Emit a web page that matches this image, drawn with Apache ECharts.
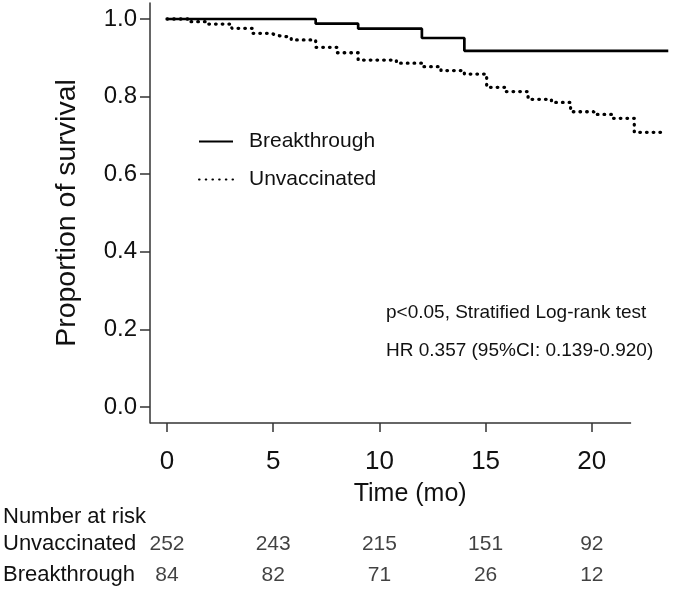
<!DOCTYPE html>
<html>
<head>
<meta charset="utf-8">
<script src="https://cdn.jsdelivr.net/npm/echarts@6/dist/echarts.min.js"></script>
<style>html,body{margin:0;padding:0;background:#fff}#c{width:673px;height:592px}</style>
</head>
<body>
<div id="c"></div>
<script>
// ---- data ----
const breakTimes = [0, 7.0, 9.0, 12.0, 14.0, 23.6];
const breakSurv  = [1.0, 0.988, 0.975, 0.951, 0.918, 0.918];
const unvTimes = [0, 1.05, 1.9, 3.05, 4.05, 4.95, 5.1, 5.85, 7.0, 8.0, 9.0, 10.8, 12.05, 12.9, 14.0, 15.05, 15.9, 17.0, 18.1, 19.0, 20.1, 21.0, 22.0, 23.5];
const unvSurv  = [1.0, 0.993, 0.987, 0.976, 0.963, 0.958, 0.953, 0.946, 0.927, 0.913, 0.894, 0.886, 0.877, 0.867, 0.858, 0.824, 0.813, 0.793, 0.785, 0.761, 0.754, 0.744, 0.708, 0.708];
const xTicks = [0, 5, 10, 15, 20];
const yTicks = [0, 0.2, 0.4, 0.6, 0.8, 1.0];
const riskTimes = [0, 5, 10, 15, 20];
const riskUnvaccinated = [252, 243, 215, 151, 92];
const riskBreakthrough = [84, 82, 71, 26, 12];
const groups = ['Breakthrough', 'Unvaccinated'];

// axis extents (x axis line drawn from X_MIN to X_LINE_END)
const X_MIN = -0.8, X_MAX = 23.7, X_LINE_END = 21.85;
const Y_MIN = -0.0412, Y_MAX = 1.0412;

const FONT = 'Liberation Sans, Arial, sans-serif';
const INK = '#111';
const AX = '#333';
const zip = (a, b) => a.map((v, i) => [v, b[i]]);

const chart = echarts.init(document.getElementById('c'), null, {renderer: 'canvas'});
chart.setOption({
  animation: false,
  textStyle: {fontFamily: FONT, color: INK},
  title: [
    {text: 'p<0.05, Stratified Log-rank test\nHR 0.357 (95%CI: 0.139-0.920)', left: 386, top: 294, padding: 0,
     textStyle: {fontFamily: FONT, fontSize: 19, fontWeight: 'normal', color: INK, lineHeight: 38}},
    {text: 'Number at risk', left: 3, top: 506, padding: 0,
     textStyle: {fontFamily: FONT, fontSize: 22, fontWeight: 'normal', color: INK}}
  ],
  legend: {
    orient: 'vertical', left: 198, top: 131, padding: 0, itemWidth: 34, itemHeight: 14, itemGap: 17,
    data: groups,
    itemStyle: {opacity: 0},
    textStyle: {fontFamily: FONT, fontSize: 21, color: INK, padding: [0, 0, 0, 11]}
  },
  grid: [
    {left: 150, right: 2.6, top: 3, bottom: 169},
    {left: 150, right: 2.6, top: 528.5, height: 62}
  ],
  xAxis: [
    {gridIndex: 0, type: 'value', min: X_MIN, max: X_MAX,
     name: 'Time (mo)', nameLocation: 'middle', nameGap: 59,
     nameTextStyle: {fontFamily: FONT, fontSize: 25, color: INK},
     axisLine: {show: false, onZero: false},
     axisTick: {show: true, length: 9, customValues: xTicks, lineStyle: {color: AX, width: 1.5}},
     axisLabel: {customValues: xTicks, fontSize: 26, margin: 26, color: INK, fontFamily: FONT},
     splitLine: {show: false}},
    {gridIndex: 1, type: 'value', min: X_MIN, max: X_MAX, show: false}
  ],
  yAxis: [
    {gridIndex: 0, type: 'value', min: Y_MIN, max: Y_MAX,
     name: 'Proportion of survival', nameLocation: 'middle', nameGap: 68, nameRotate: 90,
     nameTextStyle: {fontFamily: FONT, fontSize: 28.5, color: INK},
     axisLine: {show: true, onZero: false, lineStyle: {color: AX, width: 1.5}},
     axisTick: {show: true, length: 10, customValues: yTicks, lineStyle: {color: AX, width: 1.5}},
     axisLabel: {customValues: yTicks, fontSize: 24, margin: 13, color: INK, fontFamily: FONT,
       formatter: v => v.toFixed(1)},
     splitLine: {show: false}},
    {gridIndex: 1, type: 'category', data: groups,
     axisLine: {show: false}, axisTick: {show: false},
     axisLabel: {align: 'left', margin: 147, fontSize: 22, color: INK, fontFamily: FONT}}
  ],
  series: [
    {name: 'Breakthrough', type: 'line', xAxisIndex: 0, yAxisIndex: 0, step: 'end', symbol: 'none',
     data: zip(breakTimes, breakSurv),
     lineStyle: {color: '#000', width: 2.7, type: 'solid'}, itemStyle: {color: '#000'},
     markLine: {silent: true, symbol: 'none', label: {show: false},
       lineStyle: {color: AX, width: 1.5, type: 'solid'},
       data: [[{coord: [X_MIN, Y_MIN]}, {coord: [X_LINE_END, Y_MIN]}]]}},
    {name: 'Unvaccinated', type: 'line', xAxisIndex: 0, yAxisIndex: 0, step: 'end', symbol: 'none',
     data: zip(unvTimes, unvSurv),
     lineStyle: {color: '#000', width: 3.3, type: [0.6, 6.1], cap: 'round'}, itemStyle: {color: '#000'}},
    {type: 'scatter', xAxisIndex: 1, yAxisIndex: 1, symbolSize: 0, silent: true,
     data: riskTimes.map((t, i) => [t, 'Unvaccinated', riskUnvaccinated[i]]),
     label: {show: true, position: 'inside', formatter: p => p.value[2], fontSize: 21, color: INK, fontFamily: FONT}},
    {type: 'scatter', xAxisIndex: 1, yAxisIndex: 1, symbolSize: 0, silent: true,
     data: riskTimes.map((t, i) => [t, 'Breakthrough', riskBreakthrough[i]]),
     label: {show: true, position: 'inside', formatter: p => p.value[2], fontSize: 21, color: INK, fontFamily: FONT}}
  ]
});
</script>
</body>
</html>
